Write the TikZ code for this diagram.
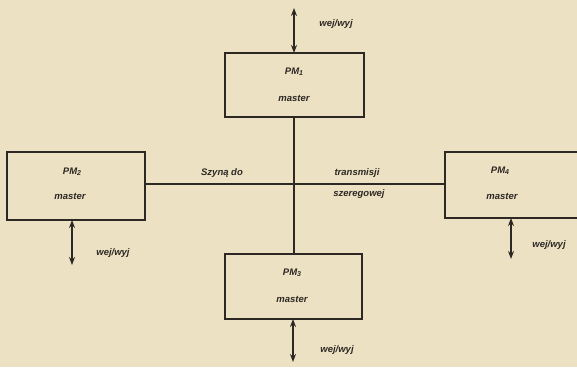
\documentclass[tikz,border=0pt]{standalone}
\usepackage{fontspec}
\setmainfont{Liberation Sans}
\usetikzlibrary{arrows.meta}
\definecolor{paper}{RGB}{236,225,195}
\definecolor{ink}{RGB}{45,40,35}
\newcommand{\pmsub}[1]{\raisebox{-0.25ex}{\scriptsize #1}}
\begin{document}
\begin{tikzpicture}[x=1pt,y=-1pt,
  every node/.style={text=ink,font=\fontsize{9.5}{11}\selectfont\itshape\bfseries},
  pmbox/.style={draw=ink,line width=1.6pt},
  bus/.style={draw=ink,line width=1.5pt},
  io/.style={draw=ink,line width=1.6pt,{Stealth[length=8pt,width=6pt]}-{Stealth[length=8pt,width=6pt]}}]
\useasboundingbox (0,0) rectangle (577,367);
\fill[paper] (0,0) rectangle (577,367);
\clip (0,0) rectangle (577,367);

% processor modules
\draw[pmbox] (225,53) rectangle (364,117);
\node (pm1a) at (294,72) {PM\pmsub{1}};
\node (pm1b) at (294,98) {master};
\coordinate (pm1t) at (294,53);
\coordinate (pm1b0) at (294,117);

\draw[pmbox] (7,152) rectangle (145,220);
\node (pm2a) at (72,172) {PM\pmsub{2}};
\node (pm2b) at (70,196) {master};
\coordinate (pm2r) at (145,184);
\coordinate (pm2d) at (72,220);

\draw[pmbox] (225,254) rectangle (362,319);
\node (pm3a) at (292,273) {PM\pmsub{3}};
\node (pm3b) at (292,299) {master};
\coordinate (pm3t) at (294,254);
\coordinate (pm3d) at (293,319);

\draw[pmbox] (445,152) rectangle (590,218);
\node (pm4a) at (500,171) {PM\pmsub{4}};
\node (pm4b) at (502,196) {master};
\coordinate (pm4l) at (445,184);
\coordinate (pm4d) at (511,218);

% serial bus
\coordinate (hub) at (294,184);
\draw[bus] (pm2r) -- (pm4l);
\draw[bus] (pm1b0) -- (pm3t);
\fill[ink] (hub) circle (1.5pt);
\node (b1) at (222,173) {Szyną do};
\node (b2) at (357,173) {transmisji};
\node (b3) at (359,194) {szeregowej};

% input/output links
\coordinate (io1) at (294,8);
\coordinate (io2) at (72,265);
\coordinate (io3) at (293,362);
\coordinate (io4) at (511,259);
\draw[io] (io1) -- (pm1t);
\draw[io] (pm2d) -- (io2);
\draw[io] (pm3d) -- (io3);
\draw[io] (pm4d) -- (io4);
\node (w1) at (336,24) {wej/wyj};
\node (w2) at (113,253) {wej/wyj};
\node (w3) at (337,350) {wej/wyj};
\node (w4) at (549,245) {wej/wyj};
\end{tikzpicture}
\end{document}
